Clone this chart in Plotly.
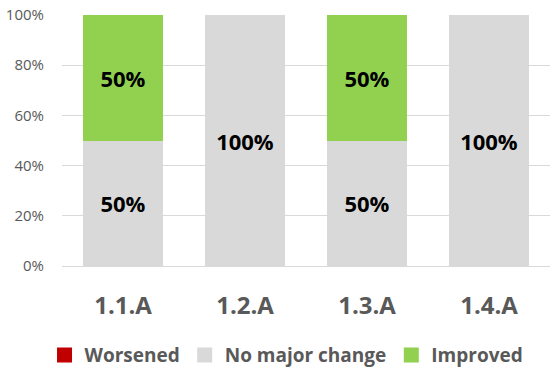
import plotly.graph_objects as go

categories = ["1.1.A", "1.2.A", "1.3.A", "1.4.A"]
worsened = [0, 0, 0, 0]
no_change = [50, 100, 50, 100]
improved = [50, 0, 50, 0]

series_names = ["Worsened", "No major change", "Improved"]
series_colors = ["#C00000", "#D9D9D9", "#92D050"]
y_ticks = [0, 20, 40, 60, 80, 100]
y_tick_labels = ["0%", "20%", "40%", "60%", "80%", "100%"]

FONT = "Open Sans"

fig = go.Figure()
for name, vals, col in zip(series_names, [worsened, no_change, improved], series_colors):
    texts = [f"<b>{v}%</b>" if v > 0 and name != "Worsened" else "" for v in vals]
    fig.add_trace(go.Bar(
        x=categories, y=vals, name=name, showlegend=False,
        marker=dict(color=col, line=dict(width=0)),
        text=texts, texttemplate="%{text}",
        textposition="inside", insidetextanchor="middle",
        textfont=dict(family=FONT, size=22, color="#000000"),
        hoverinfo="skip",
    ))

# legend entries with larger square swatches
for name, col in zip(series_names, series_colors):
    fig.add_trace(go.Scatter(
        x=[categories[0]], y=[None], mode="markers", name=f"<b>{name}</b>",
        marker=dict(symbol="square", size=15, color=col),
        hoverinfo="skip",
    ))

fig.update_layout(
    barmode="stack",
    bargap=0.34,
    width=551, height=370,
    margin=dict(l=62, r=1, t=15, b=104),
    paper_bgcolor="white", plot_bgcolor="white",
    font=dict(family=FONT, color="#595959"),
    uniformtext=dict(mode="show", minsize=10),
    showlegend=True,
    legend=dict(
        orientation="h", xref="container", yref="container",
        x=0.52, xanchor="center", y=0.04, yanchor="middle",
        font=dict(family=FONT, size=19, color="#595959"),
        itemsizing="trace", traceorder="normal",
        itemwidth=30,
    ),
    xaxis=dict(
        tickmode="array", tickvals=categories,
        ticktext=[f"<b>{c}</b>" for c in categories],
        tickfont=dict(family=FONT, size=24, color="#595959"),
        showgrid=False, showline=True, linecolor="#D9D9D9", linewidth=1,
        ticks="", ticklabelstandoff=18,
    ),
    yaxis=dict(
        range=[0, 100], tickvals=y_ticks, ticktext=y_tick_labels,
        tickfont=dict(family=FONT, size=15, color="#595959"),
        showgrid=True, gridcolor="#D9D9D9", gridwidth=1,
        zeroline=False, showline=False, ticks="", ticklabelstandoff=17,
    ),
)

fig.write_html("out.html")
